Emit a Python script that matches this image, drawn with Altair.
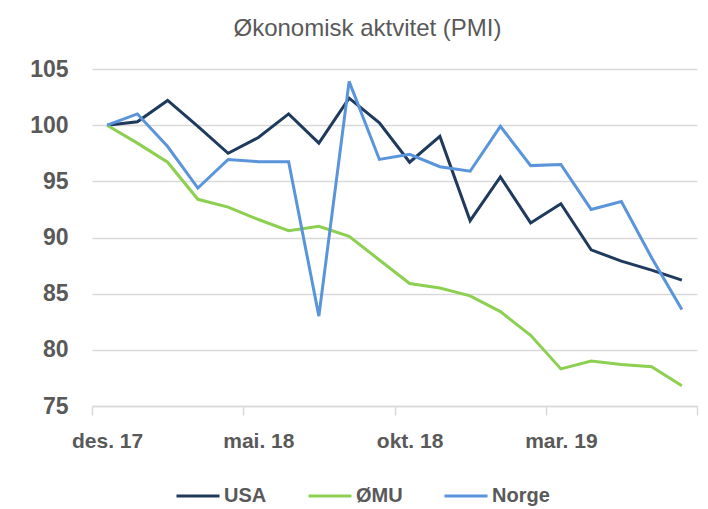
import altair as alt
import pandas as pd

months = ["des. 17", "jan. 18", "feb. 18", "mar. 18", "apr. 18", "mai. 18",
          "jun. 18", "jul. 18", "aug. 18", "sep. 18", "okt. 18", "nov. 18",
          "des. 18", "jan. 19", "feb. 19", "mar. 19", "apr. 19", "mai. 19",
          "jun. 19", "jul. 19"]
usa = [100.0, 100.3, 102.2, 99.9, 97.5, 98.9, 101.0, 98.4, 102.4, 100.2,
       96.7, 99.0, 91.5, 95.4, 91.3, 93.0, 88.9, 87.9, 87.1, 86.2]
emu = [100.0, 98.4, 96.7, 93.4, 92.7, 91.6, 90.6, 91.0, 90.1, 88.0,
       85.9, 85.5, 84.8, 83.4, 81.3, 78.3, 79.0, 78.7, 78.5, 76.8]
norge = [100.0, 101.0, 98.1, 94.4, 96.95, 96.75, 96.75, 83.0, 103.9, 96.95,
         97.4, 96.3, 95.9, 99.9, 96.4, 96.5, 92.5, 93.2, 88.2, 83.6]
series = ["USA", "ØMU", "Norge"]
colors = ["#1F3A5C", "#8DCF50", "#5A94DA"]
label_months = [0, 5, 10, 15]

rows = []
for name, vals in zip(series, [usa, emu, norge]):
    for i, v in enumerate(vals):
        rows.append({"i": i, "maaned": months[i], "serie": name, "verdi": v})
df = pd.DataFrame(rows)

n = len(months)
tick_vals = [k - 0.5 for k in range(0, n + 1, 5)] + label_months
arr = "[" + ",".join("'" + m + "'" for m in months) + "]"
label_expr = f"(datum.value % 1 === 0 && datum.value % 5 === 0) ? {arr}[datum.value] : ''"

grey = "#595959"
font = "Liberation Sans"

chart = alt.Chart(df).mark_line(strokeWidth=3).encode(
    x=alt.X("i:Q",
            scale=alt.Scale(domain=[-0.5, n - 0.5], nice=False, zero=False),
            axis=alt.Axis(values=tick_vals, labelExpr=label_expr, title=None,
                          grid=False, domainColor="#D9D9D9", domainWidth=1.5,
                          tickColor="#D9D9D9", tickWidth=1.5, tickSize=9,
                          tickOpacity={"condition": {"test": "datum.value % 1 !== 0", "value": 1}, "value": 0},
                          labelFont=font, labelFontSize=21, labelFontWeight="bold",
                          labelColor=grey, labelPadding=15, labelBaseline="top",
                          labelFlush=False, labelOverlap=False)),
    y=alt.Y("verdi:Q",
            scale=alt.Scale(domain=[75, 105], nice=False, zero=False),
            axis=alt.Axis(values=[75, 80, 85, 90, 95, 100, 105], title=None,
                          domain=False, ticks=False, gridColor="#D9D9D9", gridWidth=1.5,
                          labelFont=font, labelFontSize=23, labelFontWeight="bold",
                          labelColor=grey, labelPadding=24)),
    color=alt.Color("serie:N",
                    scale=alt.Scale(domain=series, range=colors),
                    sort=series,
                    legend=alt.Legend(title=None, orient="none", direction="horizontal",
                                      legendX=83, legendY=404, symbolType="stroke",
                                      symbolSize=1849, symbolStrokeWidth=3,
                                      labelFont=font, labelFontSize=20, labelFontWeight="bold",
                                      labelColor=grey, labelOffset=3, columnPadding=35)),
    detail="serie:N",
).properties(
    width=605, height=337,
    title=alt.TitleParams("Økonomisk aktvitet (PMI)", font=font, fontSize=24,
                          fontWeight="normal", color=grey, anchor="middle",
                          dx=-27, offset=17),
    autosize=alt.AutoSizeParams(type="none"),
    padding={"left": 84, "top": 61, "right": 3, "bottom": 101},
).configure_view(stroke=None)

chart.save("out.html", embed_options={"renderer": "svg", "actions": False})
